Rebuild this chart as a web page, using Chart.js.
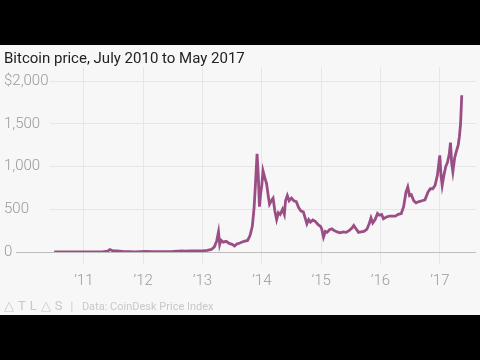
<!DOCTYPE html>
<html>
<head>
<meta charset="utf-8">
<script src="https://cdn.jsdelivr.net/npm/chart.js@4/dist/chart.umd.min.js"></script>
<style>
  body { margin: 0; background: #000; width: 480px; height: 360px; overflow: hidden; }
  #panel { position: absolute; left: 0; top: 45px; width: 480px; height: 270px; background: #f7f7f7; }
  #title { position: absolute; left: 4px; top: 4px; font: 15px Roboto, sans-serif; color: #222; white-space: nowrap; }
  #chartBox { position: absolute; left: 0; top: 0; width: 480px; height: 270px; }
  #footer { position: absolute; left: 4px; top: 253px; font: 11px Roboto, sans-serif; color: #c8c8c8; white-space: nowrap; }
  #footer .logo { letter-spacing: 4px; font-size: 13px; }
  #footer .sep { margin: 0 6px 0 4px; }
</style>
</head>
<body>
<div id="panel">
  <div id="chartBox"><canvas id="priceChart" width="480" height="270"></canvas></div>
  <div id="title">Bitcoin price, July 2010 to May 2017</div>
  <div id="footer"><span class="logo">△TL△S</span><span class="sep">|</span> Data: CoinDesk Price Index</div>
</div>
<script>
// decimal years and BPI close prices (USD)
const dates = [
  2010.5, 2010.6, 2010.75, 2010.85, 2010.95, 2011.05, 2011.15, 2011.25, 2011.33, 2011.4,
  2011.44, 2011.48, 2011.55, 2011.6, 2011.68, 2011.78, 2011.85, 2011.95, 2012.05, 2012.15,
  2012.25, 2012.4, 2012.5, 2012.6, 2012.65, 2012.7, 2012.8, 2012.9, 2013.0, 2013.08,
  2013.15, 2013.2, 2013.24, 2013.27, 2013.29, 2013.31, 2013.35, 2013.4, 2013.45, 2013.5,
  2013.54, 2013.58, 2013.63, 2013.7, 2013.76, 2013.8, 2013.84, 2013.87, 2013.89, 2013.92,
  2013.94, 2013.96, 2013.98, 2014.0, 2014.02, 2014.05, 2014.08, 2014.11, 2014.13, 2014.16,
  2014.19, 2014.22, 2014.25, 2014.28, 2014.31, 2014.35, 2014.38, 2014.4, 2014.43, 2014.46,
  2014.5, 2014.54, 2014.58, 2014.62, 2014.66, 2014.7, 2014.73, 2014.76, 2014.79, 2014.82,
  2014.86, 2014.9, 2014.95, 2014.99, 2015.01, 2015.04, 2015.07, 2015.1, 2015.14, 2015.18,
  2015.22, 2015.27, 2015.32, 2015.37, 2015.42, 2015.47, 2015.52, 2015.55, 2015.59, 2015.63,
  2015.67, 2015.72, 2015.77, 2015.81, 2015.84, 2015.87, 2015.91, 2015.95, 2015.98, 2016.02,
  2016.05, 2016.1, 2016.15, 2016.2, 2016.25, 2016.3, 2016.35, 2016.39, 2016.43, 2016.46,
  2016.49, 2016.52, 2016.56, 2016.6, 2016.65, 2016.7, 2016.75, 2016.8, 2016.84, 2016.88,
  2016.92, 2016.96, 2017.0, 2017.02, 2017.04, 2017.07, 2017.1, 2017.13, 2017.16, 2017.18,
  2017.2, 2017.22, 2017.25, 2017.28, 2017.31, 2017.33, 2017.35, 2017.37
];
const prices = [
  0.07, 0.06, 0.1, 0.25, 0.3, 0.4, 0.9, 0.8, 3.5, 9,
  29, 17, 14, 11, 5, 3.2, 2.5, 4, 6, 5,
  5, 5.2, 7, 11, 13, 10, 11.5, 12.5, 13.5, 20,
  30, 60, 130, 235, 90, 140, 115, 125, 100, 90,
  70, 95, 105, 125, 135, 190, 300, 520, 760, 1150,
  900, 530, 680, 780, 950, 870, 800, 650, 560, 600,
  630, 480, 380, 460, 440, 500, 440, 600, 660, 600,
  630, 600, 590, 520, 480, 470, 400, 330, 380, 350,
  375, 360, 320, 300, 270, 175, 240, 230, 260, 270,
  250, 235, 225, 235, 230, 250, 280, 310, 270, 230,
  235, 240, 265, 330, 400, 340, 380, 450, 430, 440,
  390, 410, 420, 420, 420, 440, 450, 530, 700, 760,
  660, 670, 600, 575, 590, 600, 610, 700, 740, 740,
  780, 900, 1130, 900, 780, 900, 1000, 1050, 1150, 1280,
  1040, 940, 1100, 1180, 1250, 1350, 1500, 1835
];
const yearTicks = [2011, 2012, 2013, 2014, 2015, 2016, 2017];
const priceTicks = [0, 500, 1000, 1500, 2000];

const gridColor = '#e6e6e6';
const labelColor = '#9a9a9a';

// zero baseline runs out under the "0" label
const baseLine = {
  id: 'baseLine',
  beforeDatasetsDraw(chart) {
    const { ctx, chartArea, scales: { y } } = chart;
    const py = Math.round(y.getPixelForValue(0)) + 0.5;
    ctx.save();
    ctx.strokeStyle = '#bdbdbd';
    ctx.lineWidth = 1;
    ctx.beginPath();
    ctx.moveTo(16, py);
    ctx.lineTo(chartArea.right, py);
    ctx.stroke();
    ctx.restore();
  }
};

new Chart('priceChart', {
  type: 'line',
  data: {
    datasets: [{
      data: dates.map((d, i) => ({ x: d, y: prices[i] })),
      borderColor: '#9b4d86',
      borderWidth: 2.8,
      pointRadius: 0,
      tension: 0,
      fill: false
    }]
  },
  options: {
    responsive: false,
    animation: false,
    layout: { padding: { left: 4, right: 4, top: 22, bottom: 17 } },
    plugins: { legend: { display: false }, tooltip: { enabled: false } },
    scales: {
      x: {
        type: 'linear',
        min: 2010.43,
        max: 2017.61,
        afterBuildTicks: (axis) => { axis.ticks = yearTicks.map(v => ({ value: v })); },
        border: { display: false },
        grid: { color: gridColor, tickLength: 12, drawTicks: true },
        ticks: {
          color: labelColor,
          padding: 8,
          maxRotation: 0,
          font: { family: 'Roboto', size: 15, weight: 300 },
          callback: (v) => '\u2019' + String(v).slice(2)
        }
      },
      y: {
        min: 0,
        max: 2165,
        afterBuildTicks: (axis) => { axis.ticks = priceTicks.map(v => ({ value: v })); },
        afterFit: (axis) => { axis.width = 46; },
        border: { display: false },
        grid: {
          drawTicks: false,
          color: (c) => c.tick && c.tick.value === 0 ? 'rgba(0,0,0,0)' : gridColor
        },
        ticks: {
          color: labelColor,
          padding: 0,
          crossAlign: 'far',
          font: { family: 'Roboto', size: 15, weight: 300 },
          callback: (v) => (v === 2000 ? '$' : '') + v.toLocaleString('en-US')
        }
      }
    }
  },
  plugins: [baseLine]
});
</script>
</body>
</html>
